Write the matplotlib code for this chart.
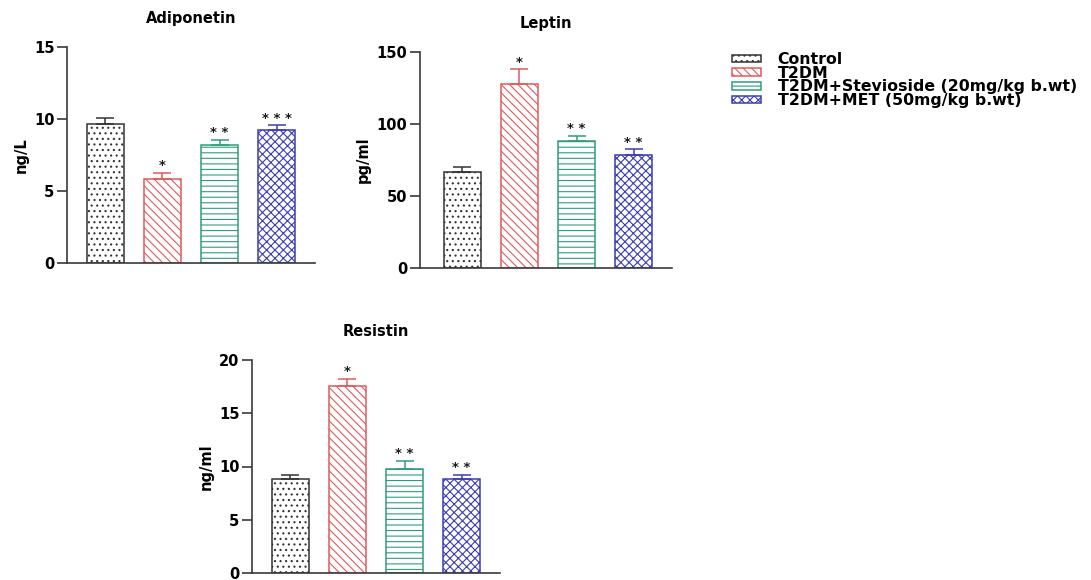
import numpy as np
import matplotlib
matplotlib.use('Agg')
import matplotlib.pyplot as plt
from matplotlib.patches import Patch

plt.rcParams['font.family'] = 'DejaVu Sans'
plt.rcParams['font.weight'] = 'bold'
plt.rcParams['hatch.linewidth'] = 0.8

groups = ['Control', 'T2DM', 'T2DM+Stevioside (20mg/kg b.wt)',
          'T2DM+MET (50mg/kg b.wt)']
edge_colors = ['#333333', '#e05a5c', '#2f9e78', '#3b3db3']
hatches = ['...', '\\\\\\\\', '---', 'xxxx']

adiponectin_mean = [9.65, 5.8, 8.2, 9.25]
adiponectin_err = [0.45, 0.45, 0.35, 0.3]
adiponectin_stars = ['', '*', '* *', '* * *']

leptin_mean = [67.0, 128.0, 88.0, 78.5]
leptin_err = [3.0, 10.0, 4.0, 4.0]
leptin_stars = ['', '*', '* *', '* *']

resistin_mean = [8.8, 17.6, 9.8, 8.8]
resistin_err = [0.4, 0.6, 0.7, 0.4]
resistin_stars = ['', '*', '* *', '* *']

W, H = 1091, 580
fig = plt.figure(figsize=(W / 100, H / 100), dpi=100)


def px_axes(left, top, right, bottom):
    return fig.add_axes([left / W, 1 - bottom / H, (right - left) / W,
                         (bottom - top) / H])


def panel(ax, mean, err, stars, ymax, step, title, ylabel, xlim):
    x = np.arange(len(mean))
    for i in x:
        ax.bar(i, mean[i], width=0.65, color='white',
               edgecolor=edge_colors[i], hatch=hatches[i], linewidth=1.1,
               zorder=2)
        ax.errorbar(i, mean[i], yerr=[[0], [err[i]]], color=edge_colors[i],
                    capsize=6.8, elinewidth=1.1, capthick=1.1, zorder=3)
        if stars[i]:
            ax.annotate(stars[i], (i, mean[i] + err[i]),
                        xytext=(0, 0.5), textcoords='offset points',
                        ha='center', va='bottom', fontsize=9.5,
                        color='#1a1a1a')
    ax.set_xlim(*xlim)
    ax.set_ylim(0, ymax)
    ax.set_yticks(np.arange(0, ymax + step / 2, step))
    ax.set_xticks([])
    for s in ('top', 'right'):
        ax.spines[s].set_visible(False)
    for s in ('left', 'bottom'):
        ax.spines[s].set_color('#3a3a3a')
        ax.spines[s].set_linewidth(1.2)
    ax.tick_params(axis='y', length=7, width=1.2, color='#3a3a3a',
                   labelsize=10.5, pad=2)
    ax.set_title(title, fontsize=10.5, fontweight='bold', pad=17)
    ax.set_ylabel(ylabel, fontsize=10.5, fontweight='bold')


ax1 = px_axes(67, 47, 315, 263)
panel(ax1, adiponectin_mean, adiponectin_err, adiponectin_stars, 15, 5,
      'Adiponetin', 'ng/L', (-0.675, 3.675))

ax2 = px_axes(420, 52, 672, 268)
panel(ax2, leptin_mean, leptin_err, leptin_stars, 150, 50,
      'Leptin', 'pg/ml', (-0.745, 3.675))

ax3 = px_axes(252, 360, 500, 573)
panel(ax3, resistin_mean, resistin_err, resistin_stars, 20, 5,
      'Resistin', 'ng/ml', (-0.675, 3.675))

handles = [Patch(facecolor='white', edgecolor=c, hatch=h, linewidth=1.1)
           for c, h in zip(edge_colors, hatches)]
fig.legend(handles, groups, loc='upper left',
           bbox_to_anchor=(732 / W, 1 - 52 / H), frameon=False,
           borderpad=0, borderaxespad=0,
           handlelength=1.85, handleheight=0.35, handletextpad=1.05,
           labelspacing=-0.08, prop={'weight': 'bold', 'size': 11.3})

fig.savefig('out.png', dpi=100)
